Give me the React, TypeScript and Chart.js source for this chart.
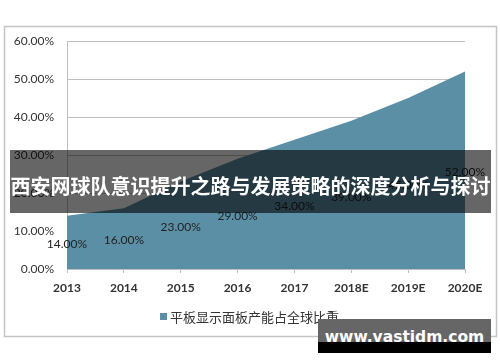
import React, { useEffect, useRef } from "react";
import { Chart, registerables } from "chart.js";

Chart.register(...registerables);

const categories = ["2013", "2014", "2015", "2016", "2017", "2018E", "2019E", "2020E"];
const shareValues = [14, 16, 23, 29, 34, 39, 45, 52];
const seriesName = "平板显示面板产能占全球比重";
const yTicks = [0, 10, 20, 30, 40, 50, 60];
const title = "西安网球队意识提升之路与发展策略的深度分析与探讨";
const watermark = "www.vastidm.com";

const AREA = "#5b8fa5";
const GRID = "#bfbfbf";
const FONT = "Lato, 'Open Sans', sans-serif";

export default function App() {
  const ref = useRef<HTMLCanvasElement | null>(null);

  useEffect(() => {
    if (!ref.current) return;
    const frame = {
      id: "frame",
      beforeDraw(chart: any) {
        const c = chart.ctx;
        c.save();
        c.fillStyle = "#ffffff";
        c.fillRect(0, 0, chart.width, chart.height);
        c.strokeStyle = "#c4c4c4";
        c.lineWidth = 1.5;
        c.strokeRect(4.5, 26.5, 492, 310);
        c.restore();
      },
      afterDatasetsDraw(chart: any) {
        const c = chart.ctx;
        const xs = chart.scales.x;
        const ys = chart.scales.y;
        c.save();
        c.font = `12px ${FONT}`;
        c.fillStyle = "#222";
        c.textAlign = "center";
        c.textBaseline = "middle";
        shareValues.forEach((v, i) => {
          const x = xs.getPixelForValue(i);
          const y = ys.getPixelForValue(v / 2) + 2;
          c.fillText(v.toFixed(2) + "%", x, y);
        });
        // legend
        c.fillStyle = AREA;
        c.fillRect(160, 313, 7, 7);
        c.fillStyle = "#333";
        c.textAlign = "left";
        c.font = `13px 'Noto Sans CJK SC', sans-serif`;
        c.fillText(seriesName, 170, 317);
        c.restore();
      },
    };

    const chart = new Chart(ref.current, {
      type: "line",
      data: {
        labels: categories,
        datasets: [
          {
            label: seriesName,
            data: shareValues,
            fill: "origin",
            backgroundColor: AREA,
            borderWidth: 0,
            pointRadius: 0,
            tension: 0,
          },
        ],
      },
      options: {
        animation: false,
        responsive: false,
        layout: { padding: { left: 0, top: 41, right: 35, bottom: 63 } },
        plugins: { legend: { display: false }, tooltip: { enabled: false } },
        scales: {
          x: {
            offset: false,
            grid: { drawOnChartArea: false, drawTicks: true, tickLength: 4, color: GRID },
            border: { color: GRID, width: 1 },
            ticks: { color: "#333", font: { family: FONT, size: 12, weight: "bold" }, padding: 8, maxRotation: 0, autoSkip: false },
            afterFit(s: any) { s.height = 30; },
          },
          y: {
            min: 0,
            max: 60,
            afterBuildTicks(s: any) { s.ticks = yTicks.map((v) => ({ value: v })); },
            grid: { color: GRID, drawTicks: false },
            border: { color: GRID, width: 1 },
            ticks: {
              color: "#333",
              font: { family: FONT, size: 12 },
              padding: 13,
              callback: (v: any) => Number(v).toFixed(2) + "%",
            },
            afterFit(s: any) { s.width = 67; },
          },
        },
      },
      plugins: [frame],
    });
    return () => chart.destroy();
  }, []);

  return (
    <div style={{ position: "fixed", left: 0, top: 0, width: 500, height: 362, background: "#fff" }}>
      <canvas ref={ref} width={500} height={362} style={{ display: "block" }} />
      <div
        style={{
          position: "absolute", left: 10, top: 150, width: 481, height: 63,
          background: "rgba(0,0,0,0.6)", color: "#fff", display: "flex",
          alignItems: "center", justifyContent: "center",
          fontFamily: "'Noto Sans CJK SC', sans-serif", fontWeight: "bold",
          fontSize: 20, letterSpacing: 0, whiteSpace: "nowrap", paddingTop: 8, boxSizing: "border-box",
        }}
      >
        {title}
      </div>
      <div style={{ position: "absolute", left: 318, top: 319, width: 173, height: 34, background: "#000" }}>
        <div style={{ position: "absolute", left: 0, top: 0, width: 173, height: 23, background: "#666" }} />
        <div
          style={{
            position: "absolute", left: 0, top: 0, width: 173, height: 34, color: "#fff",
            fontFamily: "'DejaVu Sans', sans-serif", fontWeight: "bold", fontSize: 15.5,
            display: "flex", alignItems: "center", justifyContent: "center", paddingTop: 2, boxSizing: "border-box",
          }}
        >
          {watermark}
        </div>
      </div>
    </div>
  );
}
